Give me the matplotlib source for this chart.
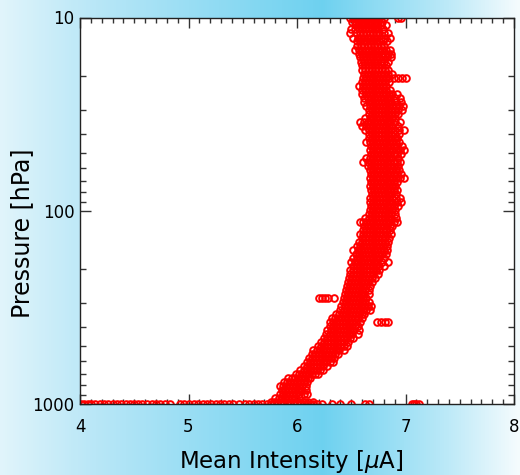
import numpy as np
import matplotlib
matplotlib.use("Agg")
import matplotlib.pyplot as plt
from matplotlib.colors import LinearSegmentedColormap
from matplotlib.ticker import FixedLocator, NullFormatter, MultipleLocator

# ---- data (pressure level [hPa] -> intensity values [uA]) ----
pressure_levels = [10.0, 10.5, 11.0, 11.5, 12.1, 12.7, 13.3, 14.0, 14.7, 15.4, 16.1, 16.9,
                   17.7, 18.6, 19.5, 20.5, 21.5, 22.5, 23.6, 24.8, 26.0, 27.3, 28.6, 30.0,
                   31.5, 33.0, 34.6, 36.3, 38.1, 40.0, 41.9, 44.0, 46.1, 48.4, 50.7, 53.2,
                   55.8, 58.6, 61.4, 64.4, 67.6, 70.9, 74.4, 78.0, 81.8, 85.8, 90.0, 94.4,
                   99.0, 104, 109, 114, 120, 126, 132, 138, 145, 152, 160, 167, 176, 184,
                   193, 203, 213, 223, 234, 245, 257, 270, 283, 297, 311, 327, 343, 359,
                   377, 395, 415, 435, 456, 479, 502, 527, 552, 579, 608, 637, 669, 701,
                   736, 772, 810, 849, 891, 935, 980]

intensity_at_level = [
    [6.49, 6.52, 6.55, 6.58, 6.61, 6.64, 6.67, 6.70, 6.73, 6.76, 6.80, 6.93, 6.96],
    [6.51, 6.54, 6.57, 6.60, 6.63, 6.66, 6.69, 6.72, 6.75, 6.78],
    [6.53, 6.56, 6.59, 6.62, 6.65, 6.68, 6.71, 6.74, 6.77, 6.82],
    [6.50, 6.53, 6.57, 6.60, 6.63, 6.66, 6.69, 6.72, 6.75, 6.79],
    [6.49, 6.54, 6.58, 6.61, 6.64, 6.67, 6.70, 6.73, 6.76, 6.80, 6.84],
    [6.52, 6.56, 6.59, 6.62, 6.65, 6.68, 6.71, 6.74, 6.77, 6.81, 6.86],
    [6.55, 6.58, 6.61, 6.64, 6.67, 6.70, 6.73, 6.76, 6.79, 6.83],
    [6.55, 6.59, 6.62, 6.65, 6.68, 6.71, 6.74, 6.77, 6.80],
    [6.53, 6.57, 6.60, 6.63, 6.66, 6.69, 6.72, 6.75, 6.78, 6.82, 6.86],
    [6.57, 6.60, 6.63, 6.66, 6.69, 6.72, 6.75, 6.78, 6.81, 6.84, 6.87],
    [6.58, 6.61, 6.64, 6.67, 6.70, 6.73, 6.76, 6.79, 6.83, 6.87],
    [6.59, 6.62, 6.65, 6.68, 6.71, 6.74, 6.77, 6.80, 6.84],
    [6.60, 6.63, 6.66, 6.69, 6.72, 6.75, 6.78, 6.82],
    [6.60, 6.63, 6.66, 6.69, 6.72, 6.75, 6.78, 6.81, 6.84],
    [6.62, 6.65, 6.68, 6.71, 6.74, 6.77, 6.80, 6.84, 6.88],
    [6.61, 6.64, 6.67, 6.70, 6.73, 6.76, 6.79, 6.82, 6.85, 6.89, 6.93, 6.97, 7.00],
    [6.60, 6.63, 6.66, 6.69, 6.72, 6.75, 6.78, 6.81, 6.85],
    [6.57, 6.61, 6.64, 6.67, 6.70, 6.73, 6.76, 6.79, 6.82],
    [6.60, 6.63, 6.66, 6.69, 6.72, 6.75, 6.78, 6.82, 6.86],
    [6.60, 6.64, 6.67, 6.70, 6.73, 6.76, 6.79, 6.82, 6.85, 6.88, 6.92],
    [6.62, 6.65, 6.68, 6.71, 6.74, 6.77, 6.80, 6.83, 6.86, 6.90, 6.95],
    [6.62, 6.66, 6.69, 6.72, 6.75, 6.78, 6.81, 6.84, 6.87, 6.91, 6.96],
    [6.64, 6.67, 6.70, 6.73, 6.76, 6.79, 6.82, 6.85, 6.88, 6.91, 6.94, 6.98],
    [6.66, 6.69, 6.72, 6.75, 6.78, 6.81, 6.84, 6.87, 6.90, 6.93, 6.97],
    [6.66, 6.69, 6.72, 6.75, 6.78, 6.81, 6.84, 6.87, 6.90, 6.93],
    [6.63, 6.67, 6.70, 6.73, 6.76, 6.79, 6.82, 6.85, 6.88, 6.90],
    [6.58, 6.62, 6.65, 6.68, 6.71, 6.74, 6.77, 6.80, 6.83, 6.86, 6.90, 6.95],
    [6.60, 6.64, 6.67, 6.70, 6.73, 6.76, 6.79, 6.82, 6.85, 6.88, 6.93],
    [6.63, 6.66, 6.69, 6.72, 6.75, 6.78, 6.81, 6.84, 6.87, 6.90, 6.94, 6.99],
    [6.66, 6.69, 6.72, 6.75, 6.78, 6.81, 6.84, 6.87, 6.90, 6.94],
    [6.66, 6.69, 6.72, 6.75, 6.78, 6.81, 6.84, 6.87, 6.90, 6.92],
    [6.64, 6.67, 6.70, 6.73, 6.76, 6.79, 6.82, 6.85, 6.88, 6.91, 6.94],
    [6.68, 6.71, 6.74, 6.77, 6.80, 6.83, 6.86, 6.89, 6.92, 6.97],
    [6.67, 6.70, 6.73, 6.76, 6.79, 6.82, 6.85, 6.88, 6.91, 6.95, 6.99],
    [6.68, 6.71, 6.74, 6.77, 6.80, 6.83, 6.86, 6.89, 6.92, 6.96],
    [6.64, 6.67, 6.70, 6.73, 6.76, 6.79, 6.82, 6.85, 6.88, 6.93],
    [6.61, 6.65, 6.68, 6.71, 6.74, 6.77, 6.80, 6.83, 6.86, 6.89, 6.92, 6.95],
    [6.65, 6.68, 6.71, 6.74, 6.77, 6.80, 6.83, 6.86, 6.89, 6.93],
    [6.67, 6.70, 6.73, 6.76, 6.79, 6.82, 6.85, 6.88, 6.91, 6.94],
    [6.68, 6.71, 6.74, 6.77, 6.80, 6.83, 6.86, 6.89, 6.92, 6.96],
    [6.67, 6.70, 6.73, 6.76, 6.79, 6.82, 6.85, 6.88, 6.91, 6.95, 6.99],
    [6.68, 6.71, 6.74, 6.77, 6.80, 6.83, 6.86, 6.89, 6.92],
    [6.67, 6.70, 6.73, 6.76, 6.79, 6.82, 6.85, 6.88, 6.90],
    [6.68, 6.71, 6.74, 6.77, 6.80, 6.83, 6.86, 6.89, 6.92],
    [6.69, 6.72, 6.75, 6.78, 6.81, 6.84, 6.87, 6.91],
    [6.67, 6.70, 6.73, 6.76, 6.79, 6.82, 6.85, 6.88, 6.91, 6.95],
    [6.67, 6.70, 6.73, 6.76, 6.79, 6.82, 6.85, 6.88, 6.92, 6.96],
    [6.68, 6.71, 6.74, 6.77, 6.80, 6.83, 6.86, 6.89, 6.93],
    [6.67, 6.70, 6.73, 6.76, 6.79, 6.82, 6.85, 6.88, 6.90],
    [6.66, 6.69, 6.72, 6.75, 6.78, 6.81, 6.84, 6.87, 6.90],
    [6.63, 6.66, 6.69, 6.72, 6.75, 6.78, 6.81, 6.84, 6.87, 6.91],
    [6.58, 6.61, 6.64, 6.67, 6.70, 6.73, 6.76, 6.79, 6.82, 6.85, 6.89, 6.92],
    [6.62, 6.65, 6.68, 6.71, 6.74, 6.77, 6.80, 6.83, 6.86, 6.88],
    [6.61, 6.64, 6.67, 6.70, 6.73, 6.76, 6.79, 6.82, 6.86],
    [6.58, 6.61, 6.64, 6.67, 6.70, 6.73, 6.76, 6.79, 6.83, 6.87],
    [6.60, 6.63, 6.66, 6.69, 6.72, 6.75, 6.78, 6.81, 6.85],
    [6.57, 6.60, 6.63, 6.66, 6.69, 6.72, 6.75, 6.78, 6.81, 6.84],
    [6.55, 6.58, 6.61, 6.64, 6.67, 6.70, 6.73, 6.76, 6.79, 6.83],
    [6.52, 6.56, 6.59, 6.62, 6.65, 6.68, 6.71, 6.74, 6.77, 6.80, 6.83],
    [6.54, 6.57, 6.60, 6.63, 6.66, 6.69, 6.72, 6.75, 6.78, 6.82],
    [6.52, 6.55, 6.58, 6.61, 6.64, 6.67, 6.70, 6.73, 6.76, 6.80],
    [6.50, 6.53, 6.56, 6.59, 6.62, 6.65, 6.68, 6.71, 6.74, 6.78, 6.84],
    [6.52, 6.55, 6.58, 6.61, 6.64, 6.67, 6.70, 6.73, 6.76, 6.80],
    [6.49, 6.52, 6.55, 6.58, 6.61, 6.64, 6.67, 6.70, 6.73, 6.76],
    [6.49, 6.52, 6.55, 6.58, 6.61, 6.64, 6.67, 6.70, 6.75],
    [6.48, 6.51, 6.54, 6.57, 6.60, 6.63, 6.66, 6.69, 6.72],
    [6.47, 6.50, 6.53, 6.56, 6.59, 6.62, 6.65, 6.69],
    [6.46, 6.49, 6.52, 6.55, 6.58, 6.61, 6.64, 6.67],
    [6.45, 6.48, 6.51, 6.54, 6.57, 6.60, 6.63, 6.66],
    [6.44, 6.47, 6.50, 6.53, 6.56, 6.59, 6.62, 6.66],
    [6.20, 6.23, 6.26, 6.29, 6.34, 6.43, 6.46, 6.49, 6.52, 6.55, 6.58, 6.61, 6.64],
    [6.42, 6.45, 6.48, 6.51, 6.54, 6.57, 6.60, 6.63, 6.66],
    [6.41, 6.44, 6.47, 6.50, 6.53, 6.56, 6.59, 6.62, 6.65, 6.68],
    [6.40, 6.43, 6.46, 6.49, 6.52, 6.55, 6.58, 6.61, 6.64, 6.67],
    [6.36, 6.39, 6.42, 6.45, 6.48, 6.51, 6.54, 6.57, 6.60, 6.62],
    [6.32, 6.35, 6.38, 6.41, 6.44, 6.47, 6.50, 6.53, 6.56, 6.60],
    [6.30, 6.33, 6.36, 6.39, 6.42, 6.45, 6.48, 6.51, 6.54, 6.58, 6.74, 6.77, 6.81, 6.84],
    [6.30, 6.33, 6.36, 6.39, 6.42, 6.45, 6.48, 6.51, 6.53, 6.56],
    [6.28, 6.31, 6.34, 6.37, 6.40, 6.43, 6.46, 6.49, 6.52, 6.57],
    [6.27, 6.30, 6.33, 6.36, 6.39, 6.42, 6.45, 6.48, 6.51, 6.56],
    [6.25, 6.28, 6.31, 6.34, 6.37, 6.40, 6.43, 6.46, 6.49, 6.52],
    [6.22, 6.25, 6.28, 6.31, 6.34, 6.37, 6.40, 6.43, 6.47],
    [6.19, 6.22, 6.25, 6.28, 6.31, 6.34, 6.37, 6.40, 6.43, 6.46],
    [6.15, 6.18, 6.21, 6.24, 6.27, 6.30, 6.33, 6.36, 6.39, 6.43],
    [6.14, 6.17, 6.20, 6.23, 6.26, 6.29, 6.32, 6.35, 6.38],
    [6.11, 6.14, 6.17, 6.20, 6.23, 6.26, 6.29, 6.31, 6.34],
    [6.09, 6.12, 6.15, 6.18, 6.21, 6.24, 6.27, 6.30, 6.33],
    [6.06, 6.09, 6.12, 6.15, 6.18, 6.21, 6.24, 6.28],
    [6.03, 6.06, 6.09, 6.12, 6.15, 6.18, 6.21, 6.24],
    [5.99, 6.02, 6.05, 6.08, 6.11, 6.14, 6.17, 6.19],
    [5.92, 5.95, 5.98, 6.01, 6.04, 6.07, 6.10, 6.12],
    [5.88, 5.91, 5.94, 5.97, 6.00, 6.03, 6.06, 6.09],
    [5.84, 5.87, 5.90, 5.93, 5.96, 5.99, 6.02, 6.05, 6.08],
    [5.86, 5.89, 5.92, 5.95, 5.98, 6.01, 6.04, 6.08],
    [5.84, 5.87, 5.90, 5.93, 5.96, 5.99, 6.02, 6.06, 6.09],
    [5.80, 5.83, 5.86, 5.89, 5.92, 5.95, 5.98, 6.02],
    [5.76, 5.79, 5.82, 5.85, 5.88, 5.91, 5.94, 5.97, 6.00, 6.03, 6.06, 6.10, 6.15],
]

surface_pressure = 1000
surface_intensity = [4.01, 4.04, 4.07, 4.10, 4.14, 4.18, 4.22, 4.26, 4.30, 4.34, 4.38, 4.42,
                     4.46, 4.50, 4.53, 4.57, 4.62, 4.66, 4.70, 4.74, 4.78, 4.83, 4.92, 4.96,
                     5.00, 5.05, 5.09, 5.13, 5.17, 5.21, 5.25, 5.29, 5.33, 5.37, 5.41, 5.47,
                     5.52, 5.56, 5.60, 5.64, 5.68, 5.72, 5.76, 5.79, 5.82, 5.85, 5.88, 5.91,
                     5.94, 5.97, 6.00, 6.03, 6.06, 6.09, 6.12, 6.15, 6.18, 6.23, 6.32, 6.40,
                     6.50, 6.63, 6.66, 7.06, 7.08, 7.10, 7.12]

x_ticks = [4, 5, 6, 7, 8]
y_ticks = [10, 100, 1000]
y_tick_labels = ["10", "100", "1000"]

# ---- assemble points ----
xs, ys = [], []
for p, vals in zip(pressure_levels, intensity_at_level):
    xs.extend(vals)
    ys.extend([p] * len(vals))
xs.extend(surface_intensity)
ys.extend([surface_pressure] * len(surface_intensity))

# ---- figure ----
fig = plt.figure(figsize=(5.2, 4.75), dpi=100)

# background gradient
bg = fig.add_axes([0, 0, 1, 1], zorder=-10)
cmap = LinearSegmentedColormap.from_list(
    "bg",
    [(0.0, (0.88, 0.96, 0.985)),
     (0.16, (0.74, 0.91, 0.97)),
     (0.62, (0.43, 0.82, 0.94)),
     (0.85, (0.72, 0.91, 0.97)),
     (1.0, (0.96, 0.985, 0.995))])
grad = np.linspace(0, 1, 520).reshape(1, -1)
bg.imshow(grad, aspect="auto", cmap=cmap, extent=[0, 1, 0, 1])
bg.set_axis_off()

ax = fig.add_axes([80 / 520, 1 - 404 / 475, 434 / 520, 386.5 / 475])
ax.set_facecolor("white")
ax.plot(xs, ys, ls="none", marker="o", mfc="none", mec="#ff0000", ms=4.8, mew=1.4,
        clip_on=True)

ax.set_yscale("log")
ax.set_xlim(4, 8)
ax.set_ylim(1000, 10)

ax.xaxis.set_major_locator(FixedLocator(x_ticks))
ax.xaxis.set_minor_locator(MultipleLocator(0.1))
ax.yaxis.set_major_locator(FixedLocator(y_ticks))
ax.set_yticklabels(y_tick_labels)
minor_y = [m * d for d in (10, 100) for m in range(2, 10)]
ax.yaxis.set_minor_locator(FixedLocator(minor_y))
ax.yaxis.set_minor_formatter(NullFormatter())

ax.tick_params(which="both", direction="in", top=True, right=True, color="#333333",
               width=1.0, labelsize=12, labelcolor="black")
ax.tick_params(axis="x", which="major", length=7, pad=10)
ax.tick_params(axis="x", which="minor", length=3.5)
ax.tick_params(axis="y", which="major", length=8, pad=4)
ax.tick_params(axis="y", which="minor", length=4)

for s in ax.spines.values():
    s.set_color("#222222")
    s.set_linewidth(1.0)

ax.set_xlabel(r"Mean Intensity [$\mu$A]", fontsize=16.5, va="center")
ax.xaxis.set_label_coords(0.486, -0.15)
ax.set_ylabel("Pressure [hPa]", fontsize=17, va="center")
ax.yaxis.set_label_coords(-0.134, 0.442)

fig.savefig("out.png", dpi=100)
